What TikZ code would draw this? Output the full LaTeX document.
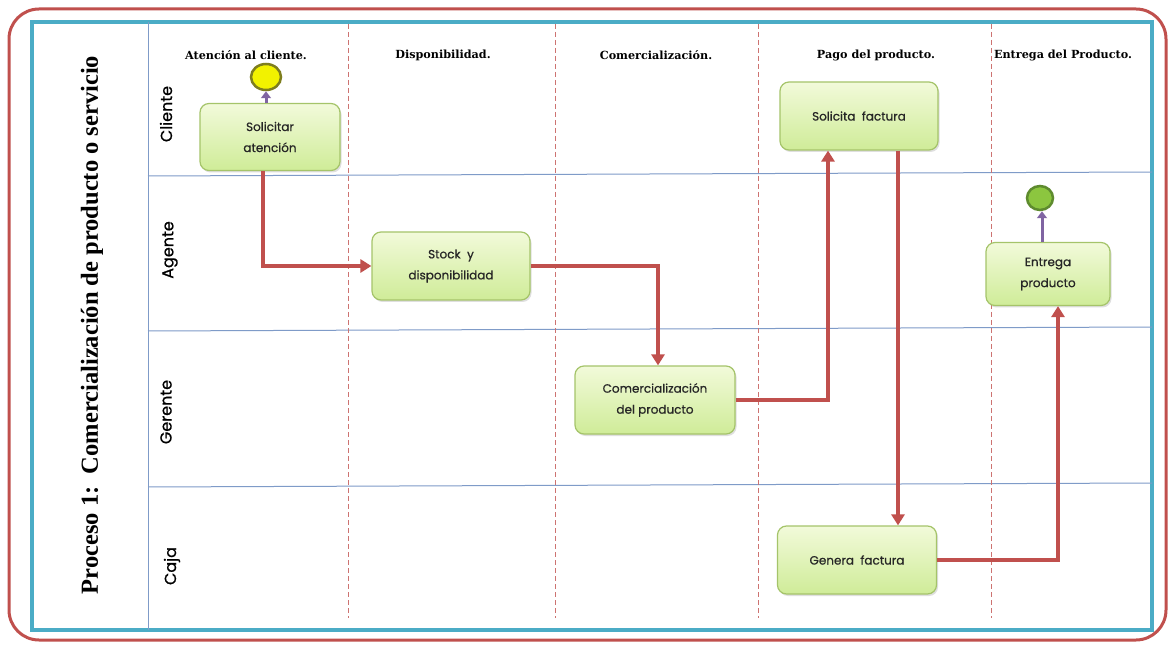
\documentclass[tikz,border=0pt]{standalone}
\usepackage{fontspec}
\setmainfont{Liberation Serif}
\newfontfamily\boxfont[FakeBold=0.7]{Poppins}
\newfontfamily\headfont{DejaVu Serif}
\usetikzlibrary{arrows.meta,shadows,shapes.geometric}
\definecolor{framered}{HTML}{C0504D}
\definecolor{poolteal}{HTML}{4BACC6}
\definecolor{laneblue}{HTML}{7F9BC8}
\definecolor{flowred}{HTML}{C0504D}
\definecolor{boxtop}{HTML}{F2FADA}
\definecolor{boxbot}{HTML}{CFEC98}
\definecolor{boxline}{HTML}{A5C46A}
\definecolor{evpurple}{HTML}{8064A2}
\definecolor{startfill}{HTML}{F2F200}
\definecolor{startline}{HTML}{7E7E1E}
\definecolor{endfill}{HTML}{8CC63F}
\definecolor{endline}{HTML}{5E8B2E}
\tikzset{
  task/.style={draw=boxline, line width=1.2pt, rounded corners=9pt,
    top color=boxtop, bottom color=boxbot, align=center,
    font=\boxfont\fontsize{12}{21}\selectfont, text=black!85,
    drop shadow={shadow xshift=1.5pt, shadow yshift=-2pt, opacity=0.25}},
  flow/.style={draw=flowred, line width=3.6pt, -{Triangle[length=11pt,width=13pt]}},
  evlink/.style={draw=evpurple, line width=3pt, -{Triangle[length=7pt,width=10pt]}},
  colhead/.style={font=\headfont\bfseries\fontsize{11.2}{13}\selectfont, anchor=center},
  lanelabel/.style={rotate=90, font=\boxfont\fontsize{16}{18}\selectfont, anchor=center},
  laneline/.style={draw=laneblue, line width=1pt},
  colsep/.style={draw=framered!80, line width=0.8pt, dash pattern=on 5pt off 3pt}
}
\begin{document}
\begin{tikzpicture}[x=1pt, y=-1pt]
\useasboundingbox (0,0) rectangle (1171,647);
\fill[white] (0,0) rectangle (1171,647);
% outer frame and pool
\draw[framered, line width=3pt, rounded corners=30pt] (9,9) rectangle (1166,640);
\draw[poolteal, line width=4pt] (32,22) rectangle (1152,630);
% title column separator and lane borders
\draw[laneline] (148,22) -- (148,630);
\draw[laneline] (148,176) -- (1152,172);
\draw[laneline] (148,331) -- (1152,327);
\draw[laneline] (148,487) -- (1152,483);
% column separators
\foreach \cx in {348,555,758,991}
  \draw[colsep] (\cx,24) -- (\cx,618);
% pool title
\node[rotate=90, font=\bfseries\fontsize{24.5}{28}\selectfont] (title) at (92,325)
  {Proceso 1:\ \ Comercialización de producto o servicio};
% lane names
\node[lanelabel] (lcli) at (166,114) {Cliente};
\node[lanelabel] (lage) at (170,250) {Agente};
\node[lanelabel] (lger) at (166,412) {Gerente};
\node[lanelabel] (lcaj) at (172,566) {Caja};
% column headings
\node[colhead] (h1) at (246,55) {Atención al cliente.};
\node[colhead] (h2) at (443,55) {Disponibilidad.};
\node[colhead] (h3) at (656,55) {Comercialización.};
\node[colhead] (h4) at (876,55) {Pago del producto.};
\node[colhead] (h5) at (1063,55) {Entrega del Producto.};
% tasks
\node[task, minimum width=140pt, minimum height=67pt] (n1) at (270,137) {Solicitar\\atención};
\node[task, minimum width=158pt, minimum height=68pt] (n2) at (451,266) {Stock\ \ y\\disponibilidad};
\node[task, minimum width=160pt, minimum height=68pt] (n3) at (655,400) {Comercialización\\del producto};
\node[task, minimum width=158pt, minimum height=68pt] (n4) at (859,116) {Solicita\ \ factura};
\node[task, minimum width=159pt, minimum height=68pt] (n5) at (857,560) {Genera\ \ factura};
\node[task, minimum width=124pt, minimum height=63pt] (n6) at (1048,274) {Entrega\\producto};
% events
\node[ellipse, draw=startline, fill=startfill, line width=2.5pt,
  minimum width=30pt, minimum height=26pt, inner sep=0pt] (start) at (266,77) {};
\node[ellipse, draw=endline, fill=endfill, line width=2.5pt,
  minimum width=26pt, minimum height=24pt, inner sep=0pt] (stop) at (1040,198) {};
\draw[evlink] (n1.north -| start) -- (start.south);
\draw[evlink] (n6.north -| 1042,0) -- (stop.south -| 1042,0);
% sequence flows
\draw[flow] ([xshift=-7pt]n1.south) |- (n2.west);
\draw[flow] (n2.east) -| ([xshift=3pt]n3.north);
\draw[flow] (n3.east) -| ([xshift=-31pt]n4.south);
\draw[flow] ([xshift=39pt]n4.south) -- ([xshift=39pt]n4.south |- n5.north);
\draw[flow] (n5.east) -| ([xshift=10pt]n6.south);
\end{tikzpicture}
\end{document}
